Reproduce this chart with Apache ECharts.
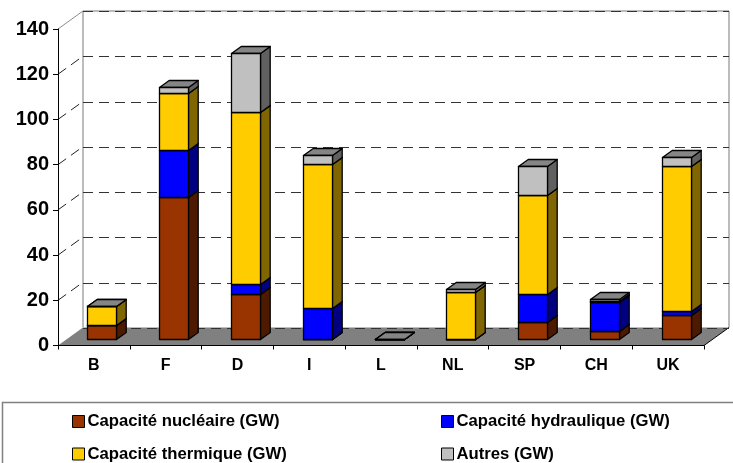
<!DOCTYPE html>
<html>
<head>
<meta charset="utf-8">
<script src="https://cdn.jsdelivr.net/npm/echarts@6/dist/echarts.min.js"></script>
<style>html,body{margin:0;padding:0;background:#fff}#c{width:733px;height:463px}</style>
</head>
<body>
<div id="c"></div>
<script>
var categories = ['B','F','D','I','L','NL','SP','CH','UK'];
var nuclear = [5.9,62.8,20,0,0,0,7.5,3.4,10.4];
var hydro   = [0,20.8,4.3,13.7,0,0,12.5,13,1.8];
var thermal = [8.8,25.2,76,63.7,0,20.8,43.6,0.2,64.2];
var autres  = [0,2.5,26,4,0,1.4,12.8,0.8,4];
var yTicks  = [20,40,60,80,100,120];
var names = ['Capacité nucléaire (GW)','Capacité hydraulique (GW)','Capacité thermique (GW)','Autres (GW)'];

var depthX = 25, depthY = 18;
var barShiftX = 8.5, barShiftY = 6.2, barW = 29, sideX = 9.7, sideY = 7;
var palettes = [
  {front:'#993300', side:'#4d1a00', top:'#7a2900'},
  {front:'#0000ff', side:'#000080', top:'#0000cc'},
  {front:'#ffcc00', side:'#806600', top:'#cca300'},
  {front:'#c0c0c0', side:'#606060', top:'#858585'}
];
var stacks = [nuclear, hydro, thermal, autres];
var running = categories.map(function(){return 0;});

function snap(v){ return Math.round(v - 0.5) + 0.5; }

function barSeries(idx){
  var values = stacks[idx], p = palettes[idx];
  var data = values.map(function(v,i){
    var base = running[i]; running[i] = base + v;
    return [i, base, running[i]];
  });
  return {
    type:'custom', name:names[idx], coordinateSystem:'cartesian2d', xAxisIndex:0, yAxisIndex:0,
    z:5, clip:false, silent:true, itemStyle:{color:p.front},
    encode:{x:0,y:[1,2]}, data:data,
    renderItem:function(params, api){
      var b = api.coord([api.value(0), api.value(1)]);
      var t = api.coord([api.value(0), api.value(2)]);
      var x0 = snap(b[0] + barShiftX - barW/2), x1 = x0 + barW;
      var yb = snap(b[1] - barShiftY), yt = snap(t[1] - barShiftY);
      var ln = {stroke:'#000', lineWidth:1.3, lineJoin:'round'};
      return {type:'group', children:[
        {type:'polygon', shape:{points:[[x1,yb],[x1+sideX,yb-sideY],[x1+sideX,yt-sideY],[x1,yt]]}, style:Object.assign({fill:p.side},ln)},
        {type:'polygon', shape:{points:[[x0,yt],[x1,yt],[x1+sideX,yt-sideY],[x0+sideX,yt-sideY]]}, style:Object.assign({fill:p.top},ln)},
        {type:'rect', shape:{x:x0,y:yt,width:barW,height:yb-yt}, style:Object.assign({fill:p.front},ln)}
      ]};
    }
  };
}

var wallSeries = {
  type:'custom', name:'parois', coordinateSystem:'cartesian2d', xAxisIndex:0, yAxisIndex:0,
  z:1, clip:false, silent:true, data:[[0,0]], encode:{x:0,y:1},
  renderItem:function(params, api){
    var r = params.coordSys, l = r.x, rt = r.x + r.width, bt = r.y + r.height, tp = r.y;
    var wall = {stroke:'#a6a6a6', lineWidth:1.5, fill:null};
    var kids = [
      {type:'polygon', shape:{points:[[l,bt],[rt,bt],[rt+depthX,bt-depthY],[l+depthX,bt-depthY]]}, style:{fill:'#808080'}},
      {type:'line', shape:{x1:l+depthX,y1:bt-depthY,x2:l+depthX,y2:tp-depthY}, style:wall},
      {type:'line', shape:{x1:rt+depthX,y1:bt-depthY,x2:rt+depthX,y2:tp-depthY}, style:wall},
      {type:'line', shape:{x1:l,y1:tp,x2:l+depthX,y2:tp-depthY}, style:{stroke:'#8c8c8c',lineWidth:1}},
      {type:'line', shape:{x1:l+depthX,y1:tp-depthY,x2:rt+depthX,y2:tp-depthY}, style:wall},
      {type:'line', shape:{x1:rt,y1:bt,x2:rt+depthX,y2:bt-depthY}, style:{stroke:'#000',lineWidth:1}}
    ];
    yTicks.forEach(function(v){
      var c = api.coord([0,v]);
      kids.push({type:'line', shape:{x1:l,y1:c[1],x2:l+depthX,y2:c[1]-depthY},
        style:{stroke:'#222',lineWidth:1,lineDash:[10,6]}});
    });
    return {type:'group', children:kids};
  }
};

var font = '"Liberation Sans", Arial, sans-serif';
function legendAt(name,left,top,idx){
  return {show:true, left:left, top:top, orient:'horizontal', padding:0, selectedMode:false,
    itemWidth:12, itemHeight:12, icon:'rect',
    itemStyle:{borderColor:'#000',borderWidth:1},
    textStyle:{fontFamily:font,fontWeight:'bold',fontSize:16.7,color:'#000',padding:[0,0,0,-2]},
    data:[{name:name,icon:'rect',itemStyle:{color:palettes[idx].front,borderColor:'#000',borderWidth:1}}]};
}

var chart = echarts.init(document.getElementById('c'),null,{renderer:'canvas'});
chart.setOption({
  animation:false,
  backgroundColor:'#fff',
  grid:[
    {left:58,top:29,width:646,height:316.5,containLabel:false},
    {left:83,top:11.5,width:646,height:316.5,containLabel:false}
  ],
  xAxis:[
    {type:'category',gridIndex:0,data:categories,z:6,
      axisLine:{lineStyle:{color:'#000',width:1}},
      axisTick:{show:true,alignWithLabel:false,length:4,lineStyle:{color:'#000'}},
      axisLabel:{fontFamily:font,fontWeight:'bold',fontSize:16,color:'#000',margin:12,interval:0},
      splitLine:{show:false}},
    {type:'category',gridIndex:1,data:categories,z:2,
      axisLine:{show:false},axisTick:{show:false},axisLabel:{show:false},splitLine:{show:false}}
  ],
  yAxis:[
    {type:'value',gridIndex:0,min:0,max:140,interval:20,z:6,
      axisLine:{show:true,lineStyle:{color:'#000',width:1}},
      axisTick:{show:true,length:5,lineStyle:{color:'#000'}},
      axisLabel:{fontFamily:font,fontWeight:'bold',fontSize:20,color:'#000',margin:9,padding:[6,0,0,0]},
      splitLine:{show:false}},
    {type:'value',gridIndex:1,min:0,max:140,interval:20,z:2,
      axisLine:{show:false},axisTick:{show:false},axisLabel:{show:false},
      splitLine:{show:true,lineStyle:{color:'#333',width:1,type:[10,6]}}}
  ],
  legend:[
    legendAt(names[0],72,413,0),
    legendAt(names[1],441,413,1),
    legendAt(names[2],72,445.5,2),
    legendAt(names[3],441,445.5,3)
  ],
  graphic:[{type:'rect',z:0,silent:true,shape:{x:2.5,y:402.5,width:745,height:80},
    style:{fill:'#fff',stroke:'#808080',lineWidth:1.5}}],
  series:[wallSeries,barSeries(0),barSeries(1),barSeries(2),barSeries(3)]
});
</script>
</body>
</html>
